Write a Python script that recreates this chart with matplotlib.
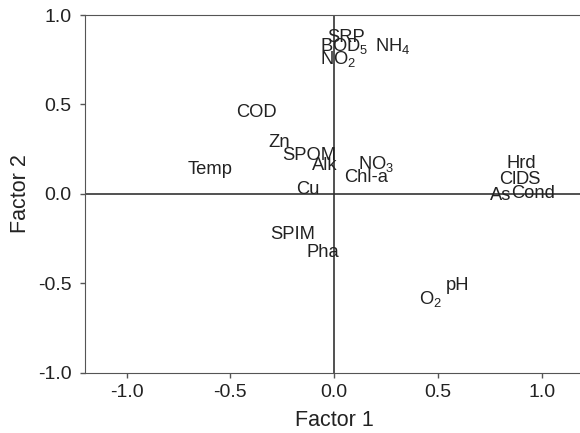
import matplotlib
matplotlib.use("Agg")
import matplotlib.pyplot as plt

plt.rcParams['font.family'] = ['Liberation Sans', 'DejaVu Sans']
plt.rcParams['mathtext.fontset'] = 'custom'
plt.rcParams['mathtext.rm'] = 'Liberation Sans'
plt.rcParams['mathtext.default'] = 'regular'

labels = ['SRP', 'BOD$_5$', 'NH$_4$', 'NO$_2$', 'COD', 'Zn', 'SPOM', 'Alk',
          'NO$_3$', 'Chl-a', 'Temp', 'Cu', 'Hrd', 'DS', 'Cl', 'As', 'Cond',
          'SPIM', 'Pha', 'O$_2$', 'pH']
factor1 = [0.056, 0.047, 0.283, 0.020, -0.375, -0.266, -0.122, -0.047,
           0.203, 0.155, -0.596, -0.127, 0.901, 0.933, 0.836, 0.800, 0.957,
           -0.199, -0.057, 0.461, 0.593]
factor2 = [0.874, 0.824, 0.824, 0.754, 0.457, 0.289, 0.213, 0.157,
           0.165, 0.092, 0.137, 0.025, 0.171, 0.081, 0.081, -0.011, 0.003,
           -0.227, -0.328, -0.588, -0.515]

fig = plt.figure(figsize=(5.8, 4.33), dpi=100)
ax = fig.add_axes([0.1466, 0.1397, 0.8595, 0.8256])

for name, x, y in zip(labels, factor1, factor2):
    ax.text(x, y, name, ha='center', va='center', fontsize=13.2, color='#222222')

ax.axhline(0, color='#333333', lw=1.2)
ax.axvline(0, color='#333333', lw=1.2)

ax.set_xlim(-1.2, 1.2)
ax.set_ylim(-1.0, 1.0)
ax.set_xticks([-1.0, -0.5, 0.0, 0.5, 1.0])
ax.set_yticks([-1.0, -0.5, 0.0, 0.5, 1.0])
ax.set_xticklabels(['-1.0', '-0.5', '0.0', '0.5', '1.0'])
ax.set_yticklabels(['-1.0', '-0.5', '0.0', '0.5', '1.0'])
ax.tick_params(labelsize=14, direction='out', length=3.5, width=1,
               color='#555555', labelcolor='#222222')
ax.tick_params(axis='y', pad=6)
ax.tick_params(axis='x', pad=5)
ax.spines['right'].set_visible(False)
for s in ['left', 'top', 'bottom']:
    ax.spines[s].set_color('#555555')
ax.set_xlabel('Factor 1', fontsize=15.5, labelpad=6, color='#222222')
ax.set_ylabel('Factor 2', fontsize=15.5, labelpad=5, color='#222222')

fig.savefig('out.png', dpi=100)
